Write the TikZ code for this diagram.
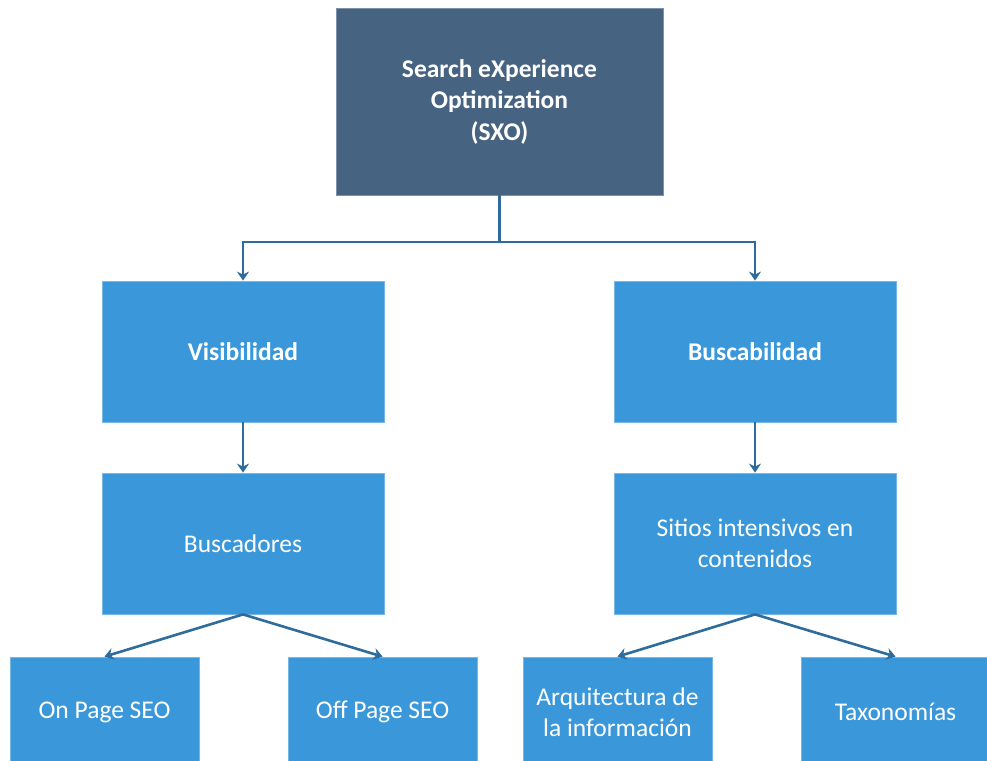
\documentclass[tikz,border=0pt]{standalone}
\usepackage{fontspec}
\setmainfont{Carlito}
\usetikzlibrary{arrows.meta}
\definecolor{topfill}{HTML}{466482}
\definecolor{boxfill}{HTML}{3A98DA}
\definecolor{linec}{HTML}{2E6C9C}
\begin{document}
\begin{tikzpicture}[x=1pt,y=-1pt,
  box/.style={rectangle, fill=boxfill, draw=boxfill!70!white, line width=0.8pt, text=white, align=center, inner sep=0pt, font=\fontsize{25.5}{31.5}\selectfont},
  bigbox/.style={box, minimum width=282pt, minimum height=141pt},
  smallbox/.style={box, minimum width=189pt, minimum height=110pt},
  topbox/.style={box, fill=topfill, draw=topfill!70!white, minimum width=327pt, minimum height=187pt},
  conn/.style={draw=linec, line width=2.6pt},
  arr/.style={conn, -{Stealth[length=9pt,width=12pt,inset=3pt]}}]
\useasboundingbox (0,0) rectangle (987,760);
\clip (0,0) rectangle (987,760);
\node[topbox] (top) at (499.5,101.5) {\bfseries Search eXperience\\\bfseries Optimization\\\bfseries (SXO)};
\node[bigbox] (vis) at (243,351.5) {\bfseries Visibilidad};
\node[bigbox] (bus) at (755,351.5) {\bfseries Buscabilidad};
\node[bigbox] (bsc) at (243,543.5) {Buscadores};
\node[bigbox] (sit) at (755,543.5) {Sitios intensivos en\\contenidos};
\node[smallbox] (onp) at (104.5,712) {On Page SEO};
\node[smallbox] (off) at (382.5,712) {Off Page SEO};
\node[smallbox] (arq) at (617.5,712) {Arquitectura de\\la información};
\node[smallbox] (tax) at (895.5,712) {Taxonomías};
\coordinate (j) at (499.5,242);
\draw[conn] (top.south) -- (j);
\draw[arr] (j) -| (vis.north);
\draw[arr] (j) -| (bus.north);
\draw[arr] (vis.south) -- (bsc.north);
\draw[arr] (bus.south) -- (sit.north);
\draw[arr] (bsc.south) -- (onp.north);
\draw[arr] (bsc.south) -- (off.north);
\draw[arr] (sit.south) -- (arq.north);
\draw[arr] (sit.south) -- (tax.north);
\end{tikzpicture}
\end{document}
